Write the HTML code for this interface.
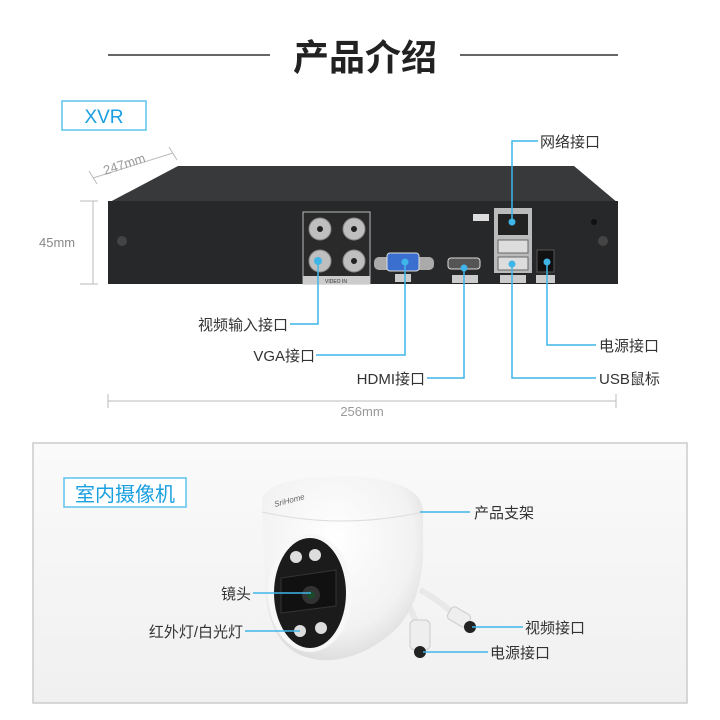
<!DOCTYPE html>
<html><head><meta charset="utf-8"><style>
html,body{margin:0;padding:0;background:#fff;}
svg{display:block}
text{font-family:"Liberation Sans","Noto Sans CJK SC",sans-serif;}
</style></head><body>
<svg width="720" height="720" viewBox="0 0 720 720" xmlns="http://www.w3.org/2000/svg">
<defs>
<linearGradient id="bg2" x1="0" y1="0" x2="0" y2="1"><stop offset="0" stop-color="#fafafa"/><stop offset="1" stop-color="#f0f0f0"/></linearGradient>
<radialGradient id="dome" cx="0.45" cy="0.35" r="0.7"><stop offset="0" stop-color="#ffffff"/><stop offset="0.7" stop-color="#f2f2f2"/><stop offset="1" stop-color="#d8d8d8"/></radialGradient>
</defs>
<rect width="720" height="720" fill="#fff"/>
<!-- title -->
<line x1="108" y1="55" x2="270" y2="55" stroke="#333" stroke-width="1.5"/>
<line x1="460" y1="55" x2="618" y2="55" stroke="#333" stroke-width="1.5"/>
<text x="365" y="70" font-size="36" font-weight="bold" text-anchor="middle" fill="#222">产品介绍</text>
<rect x="62" y="101" width="84" height="29" fill="#fff" stroke="#5cc3ec" stroke-width="1.5"/>
<text x="104" y="123" font-size="19" text-anchor="middle" fill="#1a9fe0">XVR</text>
<!-- dims -->
<g stroke="#bbb" stroke-width="1" fill="none">
<line x1="93" y1="178" x2="173" y2="153"/><line x1="89" y1="171" x2="97" y2="184"/><line x1="169" y1="147" x2="177" y2="160"/>
<line x1="93" y1="201" x2="93" y2="284"/><line x1="80" y1="201" x2="98" y2="201"/><line x1="80" y1="284" x2="98" y2="284"/>
<line x1="108" y1="401" x2="616" y2="401"/><line x1="108" y1="394" x2="108" y2="408"/><line x1="616" y1="394" x2="616" y2="408"/>
</g>
<text x="105" y="175" font-size="13" fill="#999" transform="rotate(-18 105 175)">247mm</text>
<text x="39" y="247" font-size="13" fill="#888">45mm</text>
<text x="362" y="416" font-size="13" fill="#999" text-anchor="middle">256mm</text>
<!-- DVR -->
<polygon points="108,203 178,166 574,166 618,203" fill="#38393b"/>
<rect x="108" y="201" width="510" height="83" fill="#27282a"/>
<circle cx="122" cy="241" r="5" fill="#444"/><circle cx="603" cy="241" r="5" fill="#444"/>
<circle cx="594" cy="222" r="3" fill="#111"/>
<rect x="303" y="212" width="67" height="72" fill="#2a2a2a" stroke="#bbb" stroke-width="1"/>
<rect x="303" y="276" width="67" height="8" fill="#ccc"/>
<text x="336" y="283" font-size="5" text-anchor="middle" fill="#333">VIDEO IN</text>
<g fill="#bfbfbf" stroke="#888"><circle cx="320" cy="229" r="11"/><circle cx="354" cy="229" r="11"/><circle cx="320" cy="261" r="11"/><circle cx="354" cy="261" r="11"/></g>
<g fill="#222"><circle cx="320" cy="229" r="3"/><circle cx="354" cy="229" r="3"/><circle cx="354" cy="261" r="3"/></g>
<rect x="374" y="257" width="60" height="13" rx="5" fill="#aaa"/>
<rect x="387" y="253" width="32" height="18" rx="3" fill="#3a6fd0" stroke="#ddd"/>
<rect x="395" y="274" width="16" height="8" fill="#ccc"/>
<rect x="448" y="258" width="32" height="11" rx="3" fill="#555" stroke="#ddd"/>
<rect x="452" y="275" width="26" height="8" fill="#ccc"/>
<rect x="473" y="214" width="16" height="7" fill="#ddd"/>
<rect x="494" y="208" width="38" height="65" fill="#bbb"/>
<rect x="498" y="214" width="30" height="21" fill="#222"/>
<rect x="498" y="240" width="30" height="13" fill="#ddd" stroke="#666"/>
<rect x="498" y="257" width="30" height="13" fill="#ddd" stroke="#666"/>
<rect x="500" y="275" width="26" height="8" fill="#ccc"/>
<rect x="537" y="250" width="17" height="22" fill="#111" stroke="#555"/>
<rect x="536" y="275" width="19" height="8" fill="#ccc"/>
<!-- leaders -->
<g stroke="#3fb6e8" stroke-width="1.5" fill="none">
<polyline points="512,222 512,141 538,141"/>
<polyline points="318,261 318,324 290,324"/>
<polyline points="405,262 405,355 316,355"/>
<polyline points="464,268 464,378 427,378"/>
<polyline points="547,262 547,345 596,345"/>
<polyline points="512,264 512,378 596,378"/>
</g>
<g fill="#3fb6e8"><circle cx="512" cy="222" r="3.5"/><circle cx="318" cy="261" r="4"/><circle cx="405" cy="262" r="3.5"/><circle cx="464" cy="268" r="3.5"/><circle cx="547" cy="262" r="3.5"/><circle cx="512" cy="264" r="3.5"/></g>
<g font-size="15" fill="#333">
<text x="540" y="147">网络接口</text>
<text x="288" y="330" text-anchor="end">视频输入接口</text>
<text x="315" y="361" text-anchor="end">VGA接口</text>
<text x="425" y="384" text-anchor="end">HDMI接口</text>
<text x="599" y="351">电源接口</text>
<text x="599" y="384">USB鼠标</text>
</g>
<!-- bottom box -->
<rect x="33" y="443" width="654" height="260" fill="url(#bg2)" stroke="#ccc" stroke-width="1.5"/>
<rect x="64" y="478" width="122" height="29" fill="#fff" stroke="#5cc3ec" stroke-width="1.5"/>
<text x="125" y="501" font-size="20" text-anchor="middle" fill="#1a9fe0">室内摄像机</text>
<!-- camera -->
<path d="M420,590 C440,600 450,612 468,625" stroke="#e8e8e8" stroke-width="6" fill="none"/>
<path d="M405,600 C415,615 420,630 420,648" stroke="#e8e8e8" stroke-width="6" fill="none"/>
<rect x="448" y="610" width="22" height="14" rx="4" fill="#eee" stroke="#ccc" transform="rotate(30 459 617)"/>
<circle cx="470" cy="627" r="6" fill="#222"/>
<rect x="410" y="620" width="20" height="30" rx="5" fill="#eee" stroke="#ccc"/>
<circle cx="420" cy="652" r="6" fill="#222"/>
<path d="M262,500 Q265,478 342,476 Q420,478 423,510 L423,540 Q425,600 395,630 Q360,662 320,660 Q270,655 265,590 Z" fill="url(#dome)"/>
<path d="M262,512 Q342,530 423,512" stroke="#ddd" fill="none"/>
<ellipse cx="310" cy="593" rx="42" ry="59" fill="#f7f7f7"/>
<ellipse cx="310" cy="593" rx="36" ry="55" fill="#1b1b1b"/>
<polygon points="281,578 336,570 336,606 281,613" fill="#111" stroke="#333"/>
<circle cx="311" cy="595" r="9" fill="#333"/><circle cx="311" cy="595" r="4" fill="#1a4a2a"/>
<g fill="#ddd"><circle cx="296" cy="557" r="6"/><circle cx="315" cy="555" r="6"/><circle cx="300" cy="631" r="6"/><circle cx="321" cy="628" r="6"/></g>
<text x="275" y="507" font-size="8" font-style="italic" fill="#666" font-family="Liberation Serif,serif" transform="rotate(-15 275 507)">SriHome</text>
<g stroke="#3fb6e8" stroke-width="1.5">
<line x1="420" y1="512" x2="470" y2="512"/>
<line x1="253" y1="593" x2="311" y2="593"/>
<line x1="245" y1="631" x2="300" y2="631"/>
<line x1="472" y1="627" x2="523" y2="627"/>
<line x1="423" y1="652" x2="488" y2="652"/>
</g>
<g font-size="15" fill="#333">
<text x="474" y="518">产品支架</text>
<text x="251" y="599" text-anchor="end">镜头</text>
<text x="243" y="637" text-anchor="end">红外灯/白光灯</text>
<text x="525" y="633">视频接口</text>
<text x="490" y="658">电源接口</text>
</g>
</svg>
</body></html>
